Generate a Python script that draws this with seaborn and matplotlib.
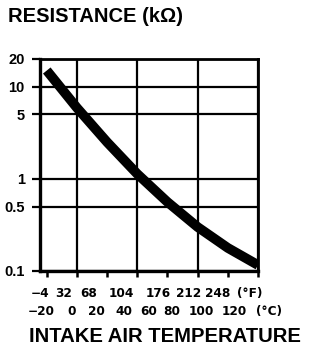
import matplotlib
matplotlib.use("Agg")
import matplotlib.pyplot as plt
import matplotlib.ticker as mticker
import numpy as np
import pandas as pd
import seaborn as sns

# ---- data ----
temp_c = [-20, 0, 20, 40, 60, 80, 100, 120]
resistance_kohm = [15.0, 5.9, 2.5, 1.13, 0.56, 0.30, 0.178, 0.116]

y_ticks = [0.1, 0.5, 1, 5, 10, 20]
y_tick_labels = ["0.1", "0.5", "1", "5", "10", "20"]
x_ticks_major = [0, 40, 80, 120]
x_ticks_minor = [-20, 20, 60, 100]
f_labels = ["\u22124", "32", "68", "104", "176", "212", "248", "(°F)"]
c_labels = ["\u221220", "0", "20", "40", "60", "80", "100", "120", "(°C)"]
y_title = "RESISTANCE (k\u03a9)"
x_title = "INTAKE AIR TEMPERATURE"

# ---- layout (pixel centres of the typed label rows, figure 320x360) ----
W, H = 320, 360
f_pos_px = [40, 64, 89, 121, 158, 189, 218, 250]
c_pos_px = [41, 72, 96, 124, 149, 172, 201, 234, 269]

sns.set_style("white")
plt.rcParams["font.family"] = ["Liberation Sans", "DejaVu Sans"]

fig = plt.figure(figsize=(W / 100, H / 100), dpi=100)
ax = fig.add_axes([40 / W, 1 - 271 / H, 218 / W, 212 / H])

df = pd.DataFrame({"temp": temp_c, "res": resistance_kohm})
sns.lineplot(data=df, x="temp", y="res", ax=ax, color="black", lw=7,
             solid_capstyle="butt", solid_joinstyle="round")

ax.set_yscale("log")
ax.set_ylim(0.1, 20)
ax.set_xlim(-24.5, 120)
ax.set_xlabel("")
ax.set_ylabel("")

ax.yaxis.set_major_locator(mticker.FixedLocator(y_ticks))
ax.yaxis.set_major_formatter(mticker.FixedFormatter(y_tick_labels))
ax.yaxis.set_minor_locator(mticker.NullLocator())
ax.set_xticks(x_ticks_major)
ax.set_xticks(x_ticks_minor, minor=True)
ax.set_xticklabels([])

ax.grid(True, which="major", axis="both", color="black", lw=1.6)
ax.set_axisbelow(True)

for s in ax.spines.values():
    s.set_color("black")
    s.set_linewidth(2.0)
ax.spines["left"].set_linewidth(2.4)
ax.spines["bottom"].set_linewidth(2.4)

ax.tick_params(axis="y", which="major", direction="out", length=5.5, width=1.6,
               color="black", pad=5.5, left=True)
ax.tick_params(axis="x", which="both", direction="out", length=4.5, width=1.8,
               color="black", bottom=True)
for lab in ax.get_yticklabels():
    lab.set_fontweight("bold")
    lab.set_fontsize(10.5)
    lab.set_color("black")

# top title
fig.text(8 / W, 1 - 22 / H, y_title, ha="left", va="baseline",
         fontsize=14.5, fontweight="bold", color="black",
         family=["Liberation Sans", "DejaVu Sans"])

# two typed rows of temperature labels
for lab, px in zip(f_labels, f_pos_px):
    fig.text(px / W, 1 - 297 / H, lab, ha="center", va="baseline",
             fontsize=8.7, fontweight="bold", color="black",
             family=["DejaVu Sans"])
for lab, px in zip(c_labels, c_pos_px):
    fig.text(px / W, 1 - 315 / H, lab, ha="center", va="baseline",
             fontsize=8.7, fontweight="bold", color="black",
             family=["DejaVu Sans"])

# bottom title
fig.text(164.5 / W, 1 - 342 / H, x_title, ha="center", va="baseline",
         fontsize=14.6, fontweight="bold", color="black",
         family=["Liberation Sans", "DejaVu Sans"])

fig.savefig("out.png", dpi=100, facecolor="white")
